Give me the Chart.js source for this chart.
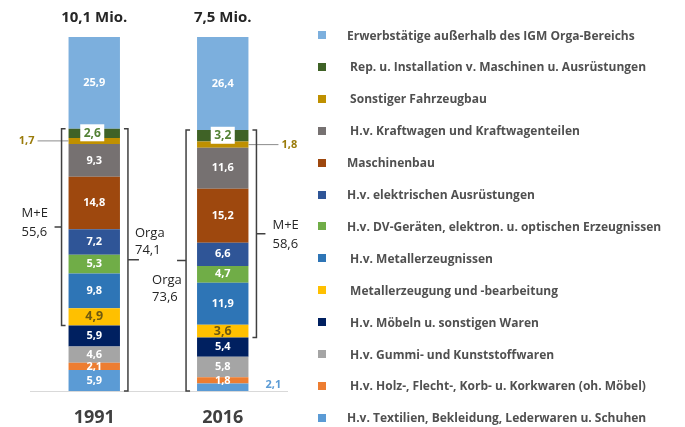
<!DOCTYPE html>
<html>
<head>
<meta charset="utf-8">
<script src="https://cdn.jsdelivr.net/npm/chart.js@4/dist/chart.umd.min.js"></script>
<style>
    html, body { margin: 0; padding: 0; background: #fff; }
    #wrap { position: relative; width: 685px; height: 427px; overflow: hidden; }
    #chart { position: absolute; left: 0; top: 0; }
    #legend { position: absolute; left: 318px; top: 0; font-family: "Open Sans", sans-serif; font-size: 12px; font-weight: bold; color: #505050; }
    .item { position: absolute; left: 0; height: 20px; display: flex; align-items: center; white-space: pre; }
    .box { width: 8px; height: 8px; margin-right: 21px; flex: none; }
</style>
</head>
<body>
<div id="wrap">
    <canvas id="chart" width="685" height="427"></canvas>
    <div id="legend"></div>
</div>
<script>
// Daten (Anteile in %), von unten nach oben gestapelt
const years = ['1991', '2016'];
const totals = ['10,1 Mio.', '7,5 Mio.'];
const categories = [
    'H.v. Textilien, Bekleidung, Lederwaren u. Schuhen',
    ' H.v. Holz-, Flecht-, Korb- u. Korkwaren (oh. Möbel)',
    ' H.v. Gummi- und Kunststoffwaren',
    ' H.v. Möbeln u. sonstigen Waren',
    ' Metallerzeugung und -bearbeitung',
    ' H.v. Metallerzeugnissen',
    'H.v. DV-Geräten, elektron. u. optischen Erzeugnissen',
    'H.v. elektrischen Ausrüstungen',
    'Maschinenbau',
    ' H.v. Kraftwagen und Kraftwagenteilen',
    ' Sonstiger Fahrzeugbau',
    ' Rep. u. Installation v. Maschinen u. Ausrüstungen',
    'Erwerbstätige außerhalb des IGM Orga-Bereichs'
];
const values1991 = [5.9, 2.1, 4.6, 5.9, 4.9, 9.8, 5.3, 7.2, 14.8, 9.3, 1.7, 2.6, 25.9];
const values2016 = [2.1, 1.8, 5.8, 5.4, 3.6, 11.9, 4.7, 6.6, 15.2, 11.6, 1.8, 3.2, 26.4];
const meTotals = ['55,6', '58,6'];
const orgaTotals = ['74,1', '73,6'];

const colors = ['#5b9bd5', '#ed7d31', '#a5a5a5', '#002060', '#ffc000', '#2e75b6', '#70ad47',
    '#2f5597', '#9e480e', '#767171', '#bf9000', '#3f6226', '#7cafdd'];
const labelColors = ['#fff', '#fff', '#fff', '#fff', '#6f5a10', '#fff', '#fff',
    '#fff', '#fff', '#fff', '#9a7b0a', '#548235', '#fff'];

// Klammern: M+E = Index 4..11, Orga = Index 0..11
const brackets = [
    { bar: 0, from: 4, to: 11, lines: ['M+E', meTotals[0]], side: 'left', gap: 7, arm: 7, textDx: -40, textDy: [-14, 5] },
    { bar: 0, from: 0, to: 11, lines: ['Orga', orgaTotals[0]], side: 'right', gap: 8, arm: 11, textDx: 7, textDy: [-27, -10] },
    { bar: 1, from: 0, to: 11, lines: ['Orga', orgaTotals[1]], side: 'left', gap: 11, arm: 9, textDx: -34, textDy: [20, 37] },
    { bar: 1, from: 4, to: 11, lines: ['M+E', meTotals[1]], side: 'right', gap: 8, arm: 9, textDx: 16, textDy: [-9, 10] }
];

const fmt = v => v.toFixed(1).replace('.', ',');

const overlay = {
    id: 'overlay',
    afterDatasetsDraw(chart) {
        const { ctx, scales: { x, y } } = chart;
        ctx.save();
        ctx.textAlign = 'center';
        ctx.textBaseline = 'middle';

        // Überschriften und Jahre
        ctx.font = 'bold 15px "Open Sans"';
        ctx.fillStyle = '#262626';
        totals.forEach((t, i) => ctx.fillText(t, x.getPixelForValue(i), 18));
        ctx.font = 'bold 18px "Open Sans"';
        ctx.fillStyle = '#404040';
        years.forEach((t, i) => ctx.fillText(t, x.getPixelForValue(i), 418));

        // Werte in den Balken
        const small = 'bold 11px "Open Sans"';
        chart.data.datasets.forEach((ds, di) => {
            chart.getDatasetMeta(di).data.forEach((bar, i) => {
                const txt = fmt(ds.data[i]);
                const cy = (bar.y + bar.base) / 2;
                const left = bar.x - bar.width / 2, right = bar.x + bar.width / 2;
                ctx.font = small;
                ctx.textAlign = 'center';
                ctx.fillStyle = labelColors[di];
                if (di === 10) {
                    ctx.strokeStyle = '#8c8c8c';
                    ctx.lineWidth = 1;
                    ctx.beginPath();
                    if (i === 0) {
                        ctx.moveTo(left - 31, cy); ctx.lineTo(left, cy);
                        ctx.stroke();
                        ctx.textAlign = 'right';
                        ctx.fillText(txt, left - 34, cy);
                    } else {
                        ctx.moveTo(right, cy); ctx.lineTo(right + 30, cy);
                        ctx.stroke();
                        ctx.textAlign = 'left';
                        ctx.fillText(txt, right + 33, cy);
                    }
                } else if (di === 11) {
                    const bx = bar.x - 2 + i * 2;
                    ctx.fillStyle = '#fff';
                    ctx.fillRect(bx - 12, cy - 9, 24, 17);
                    ctx.fillStyle = labelColors[di];
                    ctx.font = 'bold 12px "Open Sans"';
                    ctx.fillText(txt, bx, cy);
                } else if (di === 0 && i === 1) {
                    ctx.textAlign = 'left';
                    ctx.fillStyle = '#5b9bd5';
                    ctx.fillText(txt, right + 17, cy - 2);
                } else if (di === 4) {
                    ctx.font = 'bold 12.5px "Open Sans"';
                    ctx.fillText(txt, bar.x, cy);
                } else {
                    ctx.fillText(txt, bar.x, cy);
                }
            });
        });

        // Klammern M+E / Orga
        ctx.strokeStyle = '#404040';
        ctx.lineWidth = 1.5;
        ctx.fillStyle = '#262626';
        ctx.font = '13px "Open Sans"';
        ctx.textAlign = 'left';
        brackets.forEach(b => {
            const vals = b.bar === 0 ? values1991 : values2016;
            const low = vals.slice(0, b.from).reduce((a, v) => a + v, 0);
            const high = vals.slice(0, b.to + 1).reduce((a, v) => a + v, 0);
            const bar = chart.getDatasetMeta(0).data[b.bar];
            const top = y.getPixelForValue(high), bottom = y.getPixelForValue(low);
            const mid = (top + bottom) / 2;
            const dir = b.side === 'left' ? -1 : 1;
            const lx = b.side === 'left' ? bar.x - bar.width / 2 - b.gap : bar.x + bar.width / 2 + b.gap;
            ctx.beginPath();
            ctx.moveTo(lx - dir * 4, top); ctx.lineTo(lx, top); ctx.lineTo(lx, bottom); ctx.lineTo(lx - dir * 4, bottom);
            ctx.moveTo(lx, mid); ctx.lineTo(lx + dir * b.arm, mid);
            ctx.stroke();
            b.lines.forEach((t, k) => ctx.fillText(t, lx + b.textDx, mid + b.textDy[k]));
        });
        ctx.restore();
    }
};

new Chart(document.getElementById('chart'), {
    type: 'bar',
    data: {
        labels: years,
        datasets: categories.map((c, k) => ({
            label: c.trim(),
            data: [values1991[k], values2016[k]],
            backgroundColor: colors[k],
            barPercentage: 0.4,
            categoryPercentage: 1
        }))
    },
    options: {
        responsive: false,
        animation: false,
        devicePixelRatio: 1,
        layout: { padding: { left: 30, right: 398, top: 37, bottom: 36 } },
        plugins: { legend: { display: false }, tooltip: { enabled: false } },
        scales: {
            x: { stacked: true, grid: { display: false, drawTicks: false }, border: { color: '#d9d9d9' }, ticks: { display: false } },
            y: { stacked: true, display: false, min: 0, max: 100 }
        }
    },
    plugins: [overlay]
});

// Legende (oberster Block zuerst)
const legend = document.getElementById('legend');
categories.slice().reverse().forEach((c, r) => {
    const k = categories.length - 1 - r;
    const item = document.createElement('div');
    item.className = 'item';
    item.style.top = (35 + r * 31.9 - 10) + 'px';
    item.innerHTML = `<span class="box" style="background:${colors[k]}"></span><span>${c}</span>`;
    legend.appendChild(item);
});
</script>
</body>
</html>
